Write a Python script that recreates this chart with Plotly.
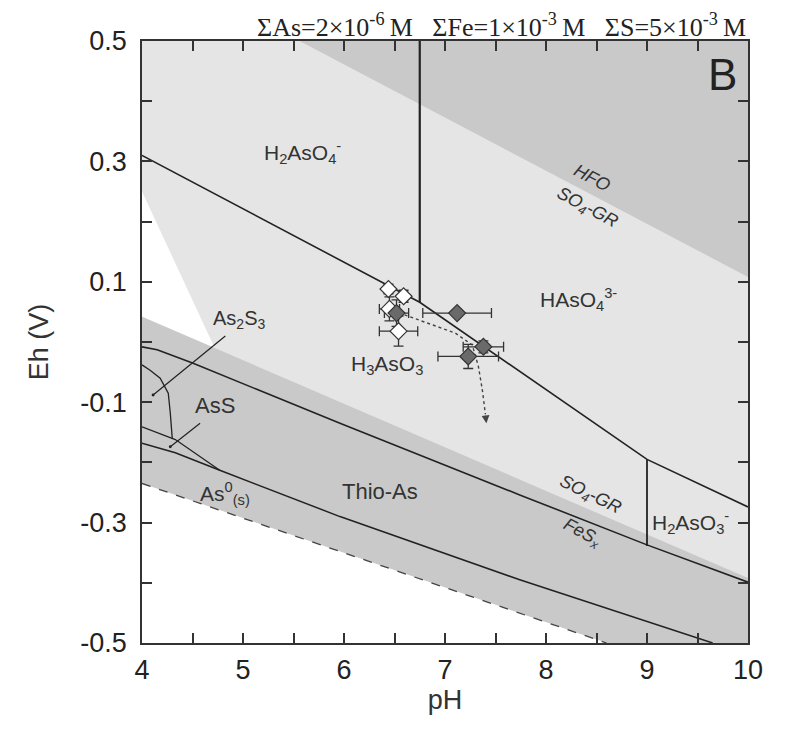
import plotly.graph_objects as go

# ---------------- data ----------------
# field boundaries (pH, Eh)
as_line_ph = [4.0, 6.75, 9.0, 10.0]
as_line_eh = [0.31, 0.066, -0.195, -0.274]
v675_ph = [6.75, 6.75]
v675_eh = [0.5, 0.066]
v9_ph = [9.0, 9.0]
v9_eh = [-0.195, -0.339]
thio_top_ph = [4.0, 4.15, 4.5, 5.96, 7.74, 9.0, 10.0]
thio_top_eh = [-0.008, -0.013, -0.035, -0.135, -0.254, -0.337, -0.399]
as2s3_ph = [4.0, 4.08, 4.18, 4.26, 4.28, 4.30]
as2s3_eh = [-0.038, -0.047, -0.06, -0.085, -0.118, -0.161]
ass_ph = [4.0, 4.33, 4.77]
ass_eh = [-0.141, -0.162, -0.213]
as0_ph = [4.0, 4.33, 4.77, 5.96, 7.74, 9.65]
as0_eh = [-0.168, -0.184, -0.213, -0.29, -0.395, -0.5]
water_ph = [4.0, 8.6]
water_eh = [-0.235, -0.5]

# shaded domains
white_wedge_ph = [4.0, 4.72, 4.0]
white_wedge_eh = [0.25, -0.01, 0.042]
band_ph = [4.0, 10.0, 10.0, 8.6, 4.0]
band_eh = [0.042, -0.392, -0.5, -0.5, -0.235]
white_low_ph = [4.0, 8.6, 4.0]
white_low_eh = [-0.235, -0.5, -0.5]
hfo_ph = [5.56, 10.0, 10.0]
hfo_eh = [0.5, 0.5, 0.108]

# measured points
pts_ph = [6.44, 6.59, 6.45, 6.52, 6.54, 7.12, 7.38, 7.23]
pts_eh = [0.088, 0.076, 0.055, 0.048, 0.018, 0.048, -0.008, -0.024]
pts_ph_err = [0.04, 0.04, 0.1, 0.12, 0.19, 0.34, 0.2, 0.3]
pts_eh_err = [0.008, 0.01, 0.02, 0.022, 0.025, 0.0, 0.01, 0.02]
pts_fill = ["white", "white", "white", "#6a6a6a", "white", "#6a6a6a", "#6a6a6a", "#6a6a6a"]

# trend path (dotted arrow)
path_ph = [6.6, 6.85, 7.1, 7.27, 7.33, 7.37, 7.40]
path_eh = [0.045, 0.03, 0.015, -0.005, -0.04, -0.08, -0.12]

x_major = [4, 5, 6, 7, 8, 9, 10]
x_minor = [4.5, 5.5, 6.5, 7.5, 8.5, 9.5]
y_major = [-0.5, -0.3, -0.1, 0.1, 0.3, 0.5]
y_major_text = ["-0.5", "-0.3", "-0.1", "0.1", "0.3", "0.5"]
y_minor = [-0.4, -0.2, 0.0, 0.2, 0.4]

LIGHT = "#e5e5e5"
MID = "#c9c9c9"
INK = "#222222"
TXT = "#333333"
SANS = "Liberation Sans, Arial"

fig = go.Figure()

def poly(xs, ys, color):
    fig.add_trace(go.Scatter(x=xs, y=ys, fill="toself", fillcolor=color,
                             line=dict(width=0, color=color), mode="lines",
                             hoverinfo="skip", showlegend=False))

poly(white_wedge_ph, white_wedge_eh, "white")
poly(hfo_ph, hfo_eh, MID)
poly(band_ph, band_eh, MID)
poly(white_low_ph, white_low_eh, "white")

def line(xs, ys, width=1.6, dash="solid", color=INK):
    fig.add_trace(go.Scatter(x=xs, y=ys, mode="lines",
                             line=dict(color=color, width=width, dash=dash),
                             hoverinfo="skip", showlegend=False))

line(as_line_ph, as_line_eh)
line(v675_ph, v675_eh, width=2.2)
line(v9_ph, v9_eh, width=1.8)
line(thio_top_ph, thio_top_eh)
line(as2s3_ph, as2s3_eh, width=1.3)
line(ass_ph, ass_eh, width=1.3)
line(as0_ph, as0_eh, width=1.5)
line(water_ph, water_eh, width=1.3, dash="dash", color="#444444")
line(path_ph, path_eh, width=1.4, dash="dot", color="#444444")

fig.add_trace(go.Scatter(
    x=pts_ph, y=pts_eh, mode="markers",
    marker=dict(symbol="diamond", size=13, color=pts_fill,
                line=dict(color="#333333", width=1.2)),
    error_x=dict(type="data", array=pts_ph_err, color="#333333", thickness=1.3, width=5),
    error_y=dict(type="data", array=pts_eh_err, color="#333333", thickness=1.3, width=5),
    hoverinfo="skip", showlegend=False))

anns = []
# arrow head of the dotted path
anns.append(dict(x=path_ph[-1] + 0.01, y=path_eh[-1] - 0.015, ax=path_ph[-1], ay=path_eh[-1],
                 xref="x", yref="y", axref="x", ayref="y", showarrow=True,
                 arrowhead=2, arrowsize=1.2, arrowwidth=1.3, arrowcolor="#444444", text=""))

def label(x, y, text, size=20, angle=0, color=TXT):
    anns.append(dict(x=x, y=y, xref="x", yref="y", text=text, showarrow=False,
                     textangle=angle,
                     font=dict(family=SANS, size=size, color=color)))

label(5.59, 0.314, "H<sub>2</sub>AsO<sub>4</sub><sup>-</sup>", size=21)
label(8.32, 0.07, "HAsO<sub>4</sub><sup>3-</sup>", size=21)
label(6.43, -0.038, "H<sub>3</sub>AsO<sub>3</sub>", size=21)
label(9.43, -0.30, "H<sub>2</sub>AsO<sub>3</sub><sup>-</sup>", size=21)
label(6.36, -0.249, "Thio-As", size=22)
label(4.82, -0.251, "As<sup>0</sup><sub>(s)</sub>", size=21)
label(8.46, 0.272, "<i>HFO</i>", size=18, angle=28)
label(8.41, 0.222, "<i>SO<sub>4</sub>-GR</i>", size=18, angle=28)
label(8.44, -0.255, "<i>SO<sub>4</sub>-GR</i>", size=18, angle=26)
label(8.36, -0.318, "<i>FeS<sub>x</sub></i>", size=18, angle=28)
label(9.75, 0.445, "B", size=44, color="#222222")

# pointer labels
anns.append(dict(x=4.11, y=-0.088, ax=4.84, ay=0.012, xref="x", yref="y", axref="x", ayref="y",
                 showarrow=True, arrowhead=6, arrowsize=0.6, arrowwidth=1.2, arrowcolor=INK, text=""))
anns.append(dict(x=4.28, y=-0.174, ax=4.59, ay=-0.133, xref="x", yref="y", axref="x", ayref="y",
                 showarrow=True, arrowhead=6, arrowsize=0.6, arrowwidth=1.2, arrowcolor=INK, text=""))
label(4.96, 0.037, "As<sub>2</sub>S<sub>3</sub>", size=20)
label(4.72, -0.105, "AsS", size=22)

# top conditions
anns.append(dict(x=1.0, y=1.0, xref="paper", yref="paper", xanchor="right", yanchor="bottom",
                 yshift=-3, showarrow=False,
                 text="ΣAs=2×10<sup>-6</sup>\u2009M\u00a0\u00a0\u00a0ΣFe=1×10<sup>-3</sup>\u2009M\u00a0\u00a0\u00a0ΣS=5×10<sup>-3</sup>\u2009M",
                 font=dict(family="Liberation Serif, Times New Roman", size=26, color="#222222")))

# the page body adds an 8 px offset; margins compensate so the frame lands where the reference has it
fig.update_layout(
    width=779, height=722,
    margin=dict(l=134, r=39, t=33, b=87),
    plot_bgcolor=LIGHT, paper_bgcolor="white",
    annotations=anns,
    showlegend=False,
    xaxis=dict(range=[4, 10], tickvals=x_major,
               ticks="inside", ticklen=10, tickwidth=1.5, tickcolor="#333333",
               minor=dict(tickvals=x_minor, ticks="inside", ticklen=10, tickwidth=1.5,
                          tickcolor="#333333", showgrid=False),
               showline=True, linecolor="#333333", linewidth=1.8, mirror="ticks",
               showgrid=False, zeroline=False, ticklabelstandoff=2,
               tickfont=dict(family=SANS, size=27, color="#222222"),
               title=dict(text="pH", standoff=2,
                          font=dict(family=SANS, size=27, color="#333333"))),
    yaxis=dict(range=[-0.5, 0.5], tickvals=y_major, ticktext=y_major_text,
               ticks="inside", ticklen=10, tickwidth=1.5, tickcolor="#333333",
               minor=dict(tickvals=y_minor, ticks="inside", ticklen=10, tickwidth=1.5,
                          tickcolor="#333333", showgrid=False),
               showline=True, linecolor="#333333", linewidth=1.8, mirror="ticks",
               showgrid=False, zeroline=False, ticklabelstandoff=8,
               tickfont=dict(family=SANS, size=27, color="#222222"),
               title=dict(text="Eh (V)", standoff=24,
                          font=dict(family=SANS, size=27, color="#333333"))),
)

fig.write_html("out.html")
